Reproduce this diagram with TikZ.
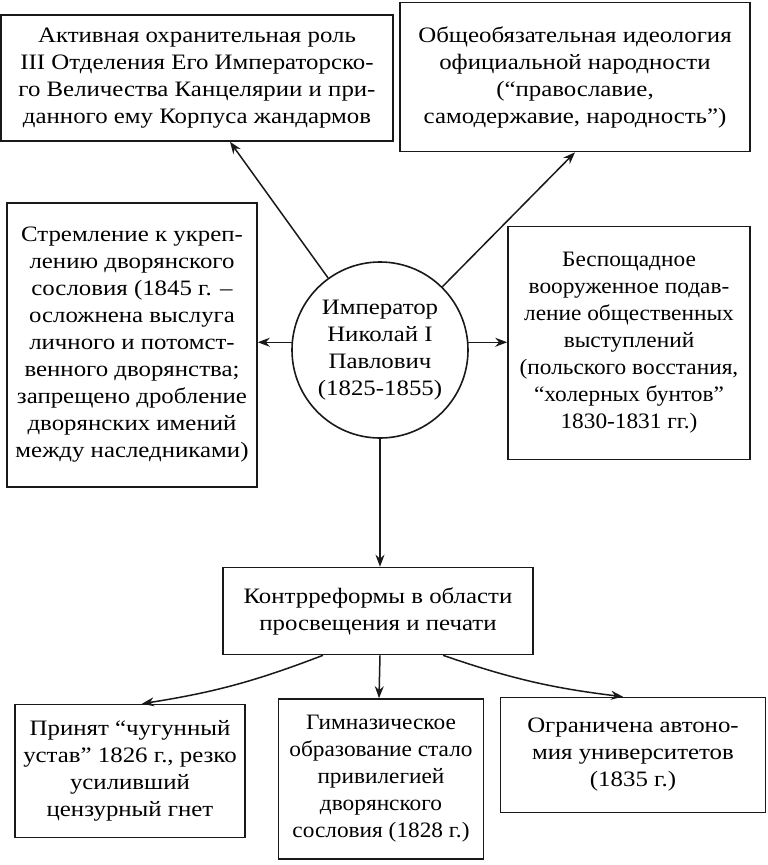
\documentclass[tikz,border=0pt]{standalone}
\usepackage{fontspec}
\setmainfont[FakeStretch=1.13]{Liberation Serif}
\newfontfamily\narrowf[FakeStretch=1.06]{Liberation Serif}
\usetikzlibrary{arrows.meta}
\begin{document}
\begin{tikzpicture}[x=1pt,y=-1pt,
  box/.style={draw=black!90,line width=1.6pt,inner sep=0pt,align=center,
    font=\fontsize{22}{27}\selectfont,text=black},
  arr/.style={draw=black!90,line width=1.5pt,-{Stealth[length=12pt,width=9pt]}}]
\useasboundingbox (0,0) rectangle (768,865);
\node[box,minimum width=392pt,minimum height=126pt] (b1) at (197,78)
  {Активная охранительная роль\\III Отделения Его Императорско-\\го Величества Канцелярии и при-\\данного ему Корпуса жандармов};
\node[box,minimum width=350pt,minimum height=149pt] (b2) at (575,77)
  {Общеобязательная идеология\\официальной народности\\(“православие,\\самодержавие, народность”)};
\node[box,minimum width=250pt,minimum height=284pt] (b3) at (132,345)
  {Стремление к укреп-\\лению дворянского\\сословия (1845 г. --\\осложнена выслуга\\личного и потомст-\\венного дворянства;\\запрещено дробление\\дворянских имений\\между наследниками)};
\node[box,minimum width=242pt,minimum height=233pt,font=\narrowf\fontsize{22}{27}\selectfont] (b4) at (629,343)
  {Беспощадное\\вооруженное подав-\\ление общественных\\выступлений\\(польского восстания,\\“холерных бунтов”\\1830-1831 гг.)};
\node[box,circle,minimum size=176pt] (c) at (380,350)
  {Император\\Николай I\\Павлович\\(1825-1855)};
\node[box,minimum width=310pt,minimum height=87pt] (b5) at (378,611)
  {Контрреформы в области\\просвещения и печати};
\node[box,minimum width=230pt,minimum height=133pt] (b6) at (130,771)
  {Принят “чугунный\\устав” 1826 г., резко\\усиливший\\цензурный гнет};
\node[box,minimum width=205pt,minimum height=160pt,font=\narrowf\fontsize{22}{27}\selectfont] (b7) at (381,779)
  {Гимназическое\\образование стало\\привилегией\\дворянского\\сословия (1828 г.)};
\node[box,minimum width=265pt,minimum height=115pt] (b8) at (633,755)
  {Ограничена автоно-\\мия университетов\\(1835 г.)};
\draw[arr] (c) -- ([xshift=33pt]b1.south);
\draw[arr] (c) -- (b2.south);
\draw[arr] (c.175) -- (b3.east |- c.175);
\draw[arr] (c.5) -- (b4.west |- c.5);
\draw[arr] (c.south) -- (c.south |- b5.north);
\draw[arr] ([xshift=-55pt]b5.south) to[bend left=6] ([xshift=12pt]b6.north);
\draw[arr] ([xshift=2pt]b5.south) -- ([xshift=-2pt]b7.north);
\draw[arr] ([xshift=65pt]b5.south) to[bend right=6] ([xshift=-10pt]b8.north);
\end{tikzpicture}
\end{document}
